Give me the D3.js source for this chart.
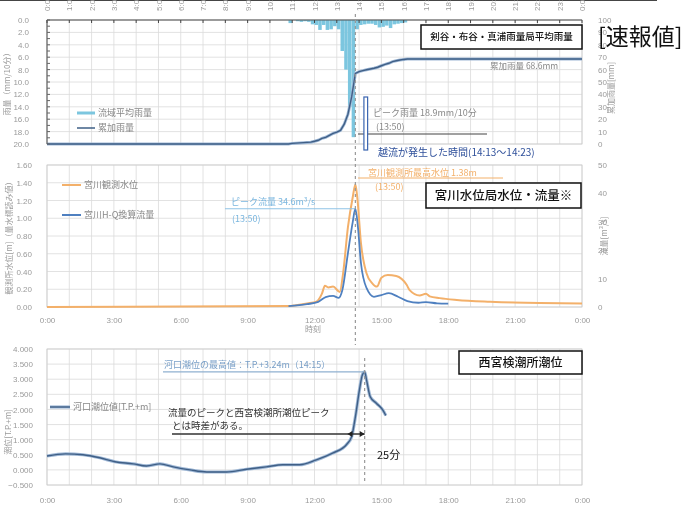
<!DOCTYPE html>
<html>
<head>
<meta charset="utf-8">
<script src="https://cdn.jsdelivr.net/npm/d3@7"></script>
<style>
  html, body { margin: 0; padding: 0; background: #fff; }
  svg { display: block; font-family: "Noto Sans CJK JP", "Noto Sans", sans-serif; }
  .tick text { fill: #9a9a9a; font-size: 8px; }
</style>
</head>
<body>
<svg id="chart" width="700" height="505"></svg>
<script>
// ---- rainfall (10-minute totals, bar ends at the given time) ----
const rainTimes = ["11:00","11:10","11:20","11:30","11:40","11:50","12:00","12:10","12:20","12:30","12:40","12:50",
                   "13:00","13:10","13:20","13:30","13:40","13:50","14:00","14:10","14:20","14:30","14:40","14:50",
                   "15:00","15:10","15:20","15:30","15:40","15:50","16:00","16:10"];
const rainMm = [0.5,0.0,0.2,0.3,0.2,0.3,0.7,0.8,1.6,0.8,1.6,1.5,
                1.0,1.5,5.0,8.0,14.0,18.9,1.5,0.8,0.7,0.6,0.6,0.8,
                1.2,1.1,0.9,1.3,0.7,0.6,0.5,0.4];
// ---- cumulative rainfall ----
const cumTimes = ["0:00","10:50","11:00","11:50","12:00","12:10","12:20","12:30","12:40","12:50","13:00","13:10",
                  "13:20","13:30","13:40","13:50","14:00","14:10","14:20","14:30","14:40","14:50","15:00","15:10",
                  "15:20","15:30","15:40","15:50","16:00","16:10","24:00"];
const cumMm = [0,0,0.5,1.5,2.2,3.0,4.6,5.4,7.0,8.5,9.5,11.0,
               16.0,24.0,38.0,56.9,58.4,59.2,59.9,60.5,61.1,61.9,63.1,64.2,
               65.1,66.4,67.1,67.7,68.2,68.6,68.6];
// ---- Miyakawa gauge: water level (m) ----
const levelTimes = ["0:00","10:50","11:10","11:40","12:05","12:20","12:28","12:37","12:50","13:08","13:17","13:30","13:43","13:50",
                    "13:55","14:05","14:20","14:35","14:48","15:00","15:17","15:40","16:08","16:16","16:43","17:00","17:10",
                    "17:37","18:23","19:53","22:06","24:00"];
const levelM = [0.00,0.01,0.02,0.04,0.06,0.15,0.24,0.22,0.23,0.17,0.38,0.90,1.24,1.38,
                1.24,0.72,0.38,0.27,0.23,0.33,0.36,0.35,0.25,0.19,0.13,0.15,0.12,
                0.10,0.08,0.06,0.045,0.04];
// ---- Miyakawa gauge: discharge (m3/s) ----
const flowTimes = ["10:50","11:40","12:10","12:30","12:50","13:05","13:15","13:30","13:43","13:50","13:57","14:05",
                   "14:20","14:40","15:00","15:20","15:45","16:10","16:40","17:00","17:30","18:00"];
const flowM3s = [0.3,1.0,1.8,3.5,3.9,3.2,6.0,19.0,30.0,34.6,28.0,15.5,
                 6.7,3.6,4.2,4.9,3.6,2.1,1.5,1.7,1.3,1.2];
// ---- Nishinomiya tide level (T.P.+m) ----
const tideTimes = ["0:00","0:50","1:37","2:22","3:03","3:52","4:28","5:04","5:40","6:25","7:10","8:03","8:57","9:50",
                   "10:35","11:20","12:05","12:50","13:27","13:40","13:50","14:01","14:09","14:15","14:20","14:30",
                   "14:47","15:04","15:12"];
const tideM = [0.46,0.53,0.50,0.40,0.27,0.20,0.13,0.20,0.10,0.00,-0.07,-0.07,0.02,0.10,
               0.17,0.17,0.33,0.56,0.85,1.10,1.75,2.65,3.15,3.24,2.98,2.42,
               2.20,1.98,1.80];
// ---- tick labels ----
const hourLabels = d3.range(0, 25).map(h => (h % 24) + ":00");
const threeHourTicks = [0,3,6,9,12,15,18,21,24];
const threeHourLabels = ["0:00","3:00","6:00","9:00","12:00","15:00","18:00","21:00","0:00"];
const rainTicks = [0,2,4,6,8,10,12,14,16,18,20];
const cumTicks = [0,10,20,30,40,50,60,70,80,90,100];
const levelTicks = [0,0.2,0.4,0.6,0.8,1.0,1.2,1.4,1.6];
const flowTicks = [0,10,20,30,40,50];
const tideTicks = [-0.5,0,0.5,1,1.5,2,2.5,3,3.5,4];

const toH = s => { const [h, m] = s.split(":").map(Number); return h + m / 60; };

const svg = d3.select("#chart");
// the scanned-in chart panels are slightly soft; the boxed captions on top are sharp
const defs = svg.append("defs");
defs.append("filter").attr("id", "soft").attr("x", "-5%").attr("y", "-5%").attr("width", "110%").attr("height", "110%")
  .append("feGaussianBlur").attr("stdDeviation", 0.45);

const X0 = 47, X1 = 582;
const hx = d3.scaleLinear().domain([0, 24]).range([X0, X1]);

const base = svg.append("g").attr("filter", "url(#soft)");
const over = svg.append("g");

// top border rule
base.append("line").attr("x1", 0).attr("x2", 657).attr("y1", 0.5).attr("y2", 0.5)
  .attr("stroke", "#444").attr("stroke-width", 1.2);

function grid(g, xTicks, yScale, yTicks, top, bottom) {
  g.append("g").selectAll("line").data(xTicks).join("line")
    .attr("x1", d => hx(d)).attr("x2", d => hx(d)).attr("y1", top).attr("y2", bottom)
    .attr("stroke", "#dadada").attr("stroke-width", 0.8);
  g.append("g").selectAll("line").data(yTicks).join("line")
    .attr("x1", X0).attr("x2", X1).attr("y1", d => yScale(d)).attr("y2", d => yScale(d))
    .attr("stroke", "#dadada").attr("stroke-width", 0.8);
  g.append("rect").attr("x", X0).attr("y", top).attr("width", X1 - X0).attr("height", bottom - top)
    .attr("fill", "none").attr("stroke", "#cccccc").attr("stroke-width", 0.8);
}
function cleanAxis(sel) {
  sel.select(".domain").remove();
  sel.selectAll(".tick line").remove();
}
function vtitle(x, y, txt, size) {
  base.append("text").attr("transform", `translate(${x},${y}) rotate(-90)`)
    .attr("text-anchor", "middle").attr("fill", "#9a9a9a").attr("font-size", size || 8).text(txt);
}
function titleBox(x, y, w, h, txt, size) {
  over.append("rect").attr("x", x).attr("y", y).attr("width", w).attr("height", h)
    .attr("fill", "#fff").attr("stroke", "#111").attr("stroke-width", 1.5);
  over.append("text").attr("x", x + w / 2).attr("y", y + h / 2 + size * 0.36).attr("text-anchor", "middle")
    .attr("fill", "#111").attr("font-size", size).attr("font-weight", 500).text(txt);
}

// ================= Panel 1: rainfall =================
const p1 = base.append("g");
const yRain = d3.scaleLinear().domain([0, 20]).range([20, 144]);
const yCum = d3.scaleLinear().domain([0, 100]).range([144, 20]);
grid(p1, d3.range(0, 25), yRain, rainTicks, 20, 144);

p1.append("g").selectAll("rect").data(rainTimes.map((t, i) => ({ t: toH(t), v: rainMm[i] }))).join("rect")
  .attr("x", d => hx(d.t - 1 / 6)).attr("width", d => hx(d.t) - hx(d.t - 1 / 6) - 0.2)
  .attr("y", yRain(0)).attr("height", d => yRain(d.v) - yRain(0))
  .attr("fill", "#7cc6df");

const cumLine = d3.line().x(d => hx(d.t)).y(d => yCum(d.v));
const cumData = cumTimes.map((t, i) => ({ t: toH(t), v: cumMm[i] }));
p1.append("path").datum(cumData).attr("d", cumLine).attr("fill", "none")
  .attr("stroke", "#9fb8d6").attr("stroke-width", 3);
p1.append("path").datum(cumData).attr("d", cumLine).attr("fill", "none")
  .attr("stroke", "#3f5f86").attr("stroke-width", 1.4);

p1.append("line").attr("x1", X0).attr("x2", X0).attr("y1", 20).attr("y2", 144).attr("stroke", "#555").attr("stroke-width", 1);
p1.append("line").attr("x1", X0).attr("x2", X1).attr("y1", 20).attr("y2", 20).attr("stroke", "#555").attr("stroke-width", 1);
p1.append("g").selectAll("line").data(d3.range(0, 25)).join("line")
  .attr("x1", d => hx(d)).attr("x2", d => hx(d)).attr("y1", 20).attr("y2", 23).attr("stroke", "#444");
p1.append("g").selectAll("line").data(d3.range(0, 21)).join("line")
  .attr("x1", X0).attr("x2", X0 + 3).attr("y1", d => yRain(d)).attr("y2", d => yRain(d)).attr("stroke", "#666");

p1.append("g").attr("transform", `translate(${X0},0)`)
  .call(d3.axisLeft(yRain).tickValues(rainTicks).tickFormat(d3.format(".1f")).tickPadding(12))
  .call(cleanAxis);
p1.append("g").attr("transform", `translate(${X1},0)`)
  .call(d3.axisRight(yCum).tickValues(cumTicks).tickFormat(d3.format("d")).tickPadding(10))
  .call(cleanAxis);
const topAx = p1.append("g").attr("transform", "translate(0,11)")
  .call(d3.axisTop(hx).tickValues(d3.range(0, 25)).tickFormat((d, i) => hourLabels[i]).tickSize(0))
  .call(cleanAxis);
topAx.selectAll("text").attr("transform", "rotate(-90)").attr("text-anchor", "start")
  .attr("dy", "0.32em").attr("x", 0).attr("y", 0);
vtitle(10, 82, "雨量（mm/10分）");
vtitle(614, 88, "累加雨量[mm]");

// legend
p1.append("line").attr("x1", 77).attr("x2", 95).attr("y1", 113).attr("y2", 113).attr("stroke", "#7cc6df").attr("stroke-width", 3);
p1.append("text").attr("x", 98).attr("y", 116).attr("font-size", 9).attr("fill", "#888").text("流域平均雨量");
p1.append("line").attr("x1", 77).attr("x2", 95).attr("y1", 128).attr("y2", 128).attr("stroke", "#3f5f86").attr("stroke-width", 1.5);
p1.append("text").attr("x", 98).attr("y", 131).attr("font-size", 9).attr("fill", "#888").text("累加雨量");

// annotations
p1.append("text").attr("x", 490).attr("y", 69).attr("font-size", 8.5).attr("fill", "#888").text("累加雨量 68.6mm");
p1.append("text").attr("x", 373).attr("y", 116).attr("font-size", 9).attr("fill", "#888").text("ピーク雨量 18.9mm/10分");
p1.append("text").attr("x", 376).attr("y", 130).attr("font-size", 9).attr("fill", "#888").text("(13:50)");
p1.append("line").attr("x1", 358).attr("x2", 487).attr("y1", 134).attr("y2", 134).attr("stroke", "#444").attr("stroke-width", 1);
p1.append("rect").attr("x", hx(toH("14:13"))).attr("y", 97).attr("width", hx(toH("14:23")) - hx(toH("14:13"))).attr("height", 53)
  .attr("fill", "#fff").attr("stroke", "#3a64b0").attr("stroke-width", 1.2);
p1.append("text").attr("x", 378).attr("y", 156).attr("font-size", 10).attr("fill", "#2e4f9a").text("越流が発生した時間(14:13〜14:23)");

titleBox(421, 25, 161, 24, "剣谷・布谷・真浦雨量局平均雨量", 9.5);
over.append("text").attr("x", 598).attr("y", 45).attr("font-size", 23).attr("fill", "#111").text("[速報値]");

// ================= Panel 2: water level / discharge =================
const p2 = base.append("g");
const yLev = d3.scaleLinear().domain([0, 1.6]).range([307, 165]);
const yFlow = d3.scaleLinear().domain([0, 50]).range([307, 165]);
grid(p2, d3.range(0, 25), yLev, levelTicks, 165, 307);

const levData = levelTimes.map((t, i) => ({ t: toH(t), v: levelM[i] }));
const flowData = flowTimes.map((t, i) => ({ t: toH(t), v: flowM3s[i] }));
p2.append("path").datum(levData).attr("fill", "none").attr("stroke", "#f3b06a").attr("stroke-width", 2)
  .attr("d", d3.line().curve(d3.curveMonotoneX).x(d => hx(d.t)).y(d => yLev(d.v)));
p2.append("path").datum(flowData).attr("fill", "none").attr("stroke", "#4f80c0").attr("stroke-width", 1.8)
  .attr("d", d3.line().curve(d3.curveMonotoneX).x(d => hx(d.t)).y(d => yFlow(d.v)));

p2.append("g").attr("transform", `translate(${X0},0)`)
  .call(d3.axisLeft(yLev).tickValues(levelTicks).tickFormat(d3.format(".2f")).tickPadding(9))
  .call(cleanAxis);
p2.append("g").attr("transform", `translate(${X1},0)`)
  .call(d3.axisRight(yFlow).tickValues(flowTicks).tickFormat(d3.format("d")).tickPadding(10))
  .call(cleanAxis);
p2.append("g").attr("transform", "translate(0,307)")
  .call(d3.axisBottom(hx).tickValues(threeHourTicks).tickFormat((d, i) => threeHourLabels[i]).tickPadding(4))
  .call(cleanAxis);
p2.append("text").attr("x", 313).attr("y", 332).attr("text-anchor", "middle").attr("font-size", 8).attr("fill", "#9a9a9a").text("時刻");
vtitle(12, 236, "観測所水位[m]（量水標読み値）");
vtitle(607, 236, "流量[m³/s]");

// legend
p2.append("line").attr("x1", 62).attr("x2", 81).attr("y1", 185).attr("y2", 185).attr("stroke", "#f3b06a").attr("stroke-width", 2);
p2.append("text").attr("x", 84).attr("y", 188).attr("font-size", 9).attr("fill", "#888").text("宮川観測水位");
p2.append("line").attr("x1", 62).attr("x2", 81).attr("y1", 215).attr("y2", 215).attr("stroke", "#4f80c0").attr("stroke-width", 2);
p2.append("text").attr("x", 84).attr("y", 218).attr("font-size", 9).attr("fill", "#888").text("宮川H-Q換算流量");

// peak annotations
p2.append("line").attr("x1", 225).attr("x2", hx(toH("13:50"))).attr("y1", yFlow(34.6)).attr("y2", yFlow(34.6))
  .attr("stroke", "#8fc3e6").attr("stroke-width", 1.2);
p2.append("text").attr("x", 231).attr("y", 205).attr("font-size", 9).attr("fill", "#7ab6df").text("ピーク流量 34.6m³/s");
p2.append("text").attr("x", 232).attr("y", 222).attr("font-size", 9).attr("fill", "#7ab6df").text("(13:50)");
p2.append("line").attr("x1", 358).attr("x2", 503).attr("y1", 178).attr("y2", 178).attr("stroke", "#f3b06a").attr("stroke-width", 1);
p2.append("text").attr("x", 368).attr("y", 176).attr("font-size", 9).attr("fill", "#f3b06a").text("宮川観測所最高水位 1.38m");
p2.append("text").attr("x", 375).attr("y", 190).attr("font-size", 9).attr("fill", "#f3b06a").text("(13:50)");

titleBox(426, 183, 155, 25, "宮川水位局水位・流量※", 12.5);

// ================= Panel 3: tide =================
const p3 = base.append("g");
const yTide = d3.scaleLinear().domain([-0.5, 4]).range([485, 349]);
grid(p3, d3.range(0, 25), yTide, tideTicks, 349, 485);
const tideData = tideTimes.map((t, i) => ({ t: toH(t), v: tideM[i] }));
const tideLine = d3.line().curve(d3.curveMonotoneX).x(d => hx(d.t)).y(d => yTide(d.v));
p3.append("path").datum(tideData).attr("d", tideLine).attr("fill", "none").attr("stroke", "#9fb8d6").attr("stroke-width", 3.2);
p3.append("path").datum(tideData).attr("d", tideLine).attr("fill", "none").attr("stroke", "#3f5f86").attr("stroke-width", 1.4);

p3.append("g").attr("transform", `translate(${X0},0)`)
  .call(d3.axisLeft(yTide).tickValues(tideTicks).tickFormat(d3.format(".3f")).tickPadding(8))
  .call(cleanAxis);
p3.append("g").attr("transform", "translate(0,485)")
  .call(d3.axisBottom(hx).tickValues(threeHourTicks).tickFormat((d, i) => threeHourLabels[i]).tickPadding(6))
  .call(cleanAxis);
vtitle(11, 432, "潮位[T.P.+m]");

p3.append("line").attr("x1", 50).attr("x2", 70).attr("y1", 407).attr("y2", 407).attr("stroke", "#9fb8d6").attr("stroke-width", 3.2);
p3.append("line").attr("x1", 50).attr("x2", 70).attr("y1", 407).attr("y2", 407).attr("stroke", "#3f5f86").attr("stroke-width", 1.4);
p3.append("text").attr("x", 73).attr("y", 410).attr("font-size", 9).attr("fill", "#888").text("河口潮位値[T.P.+m]");

p3.append("line").attr("x1", 163).attr("x2", hx(toH("14:15"))).attr("y1", yTide(3.24)).attr("y2", yTide(3.24))
  .attr("stroke", "#8fb0d0").attr("stroke-width", 1.2);
p3.append("text").attr("x", 164).attr("y", 368).attr("font-size", 9).attr("fill", "#7aa0c8").text("河口潮位の最高値：T.P.+3.24m（14:15）");

p3.append("text").attr("x", 168).attr("y", 416).attr("font-size", 9.5).attr("fill", "#333").text("流量のピークと西宮検潮所潮位ピーク");
p3.append("text").attr("x", 172).attr("y", 429).attr("font-size", 9.5).attr("fill", "#333").text("とは時差がある。");
p3.append("line").attr("x1", 172).attr("x2", hx(toH("14:15"))).attr("y1", 434).attr("y2", 434).attr("stroke", "#333").attr("stroke-width", 1.3);
const ah = (tip, dir) => `M${tip},434 L${tip - dir * 5},431 L${tip - dir * 5},437 Z`;
p3.append("path").attr("d", ah(hx(toH("13:50")) - 8, -1)).attr("fill", "#222");
p3.append("path").attr("d", ah(hx(toH("14:15")), 1)).attr("fill", "#222");
over.append("text").attr("x", 377).attr("y", 459).attr("font-size", 11).attr("fill", "#111").text("25分");

titleBox(459, 351, 123, 23, "西宮検潮所潮位", 12);

// ---- time markers ----
base.append("line").attr("x1", hx(toH("13:50"))).attr("x2", hx(toH("13:50"))).attr("y1", 14).attr("y2", 345)
  .attr("stroke", "#999").attr("stroke-width", 1.2).attr("stroke-dasharray", "3,3");
base.append("line").attr("x1", hx(toH("14:15"))).attr("x2", hx(toH("14:15"))).attr("y1", 358).attr("y2", 482)
  .attr("stroke", "#999").attr("stroke-width", 1.2).attr("stroke-dasharray", "3,3");
</script>
</body>
</html>
